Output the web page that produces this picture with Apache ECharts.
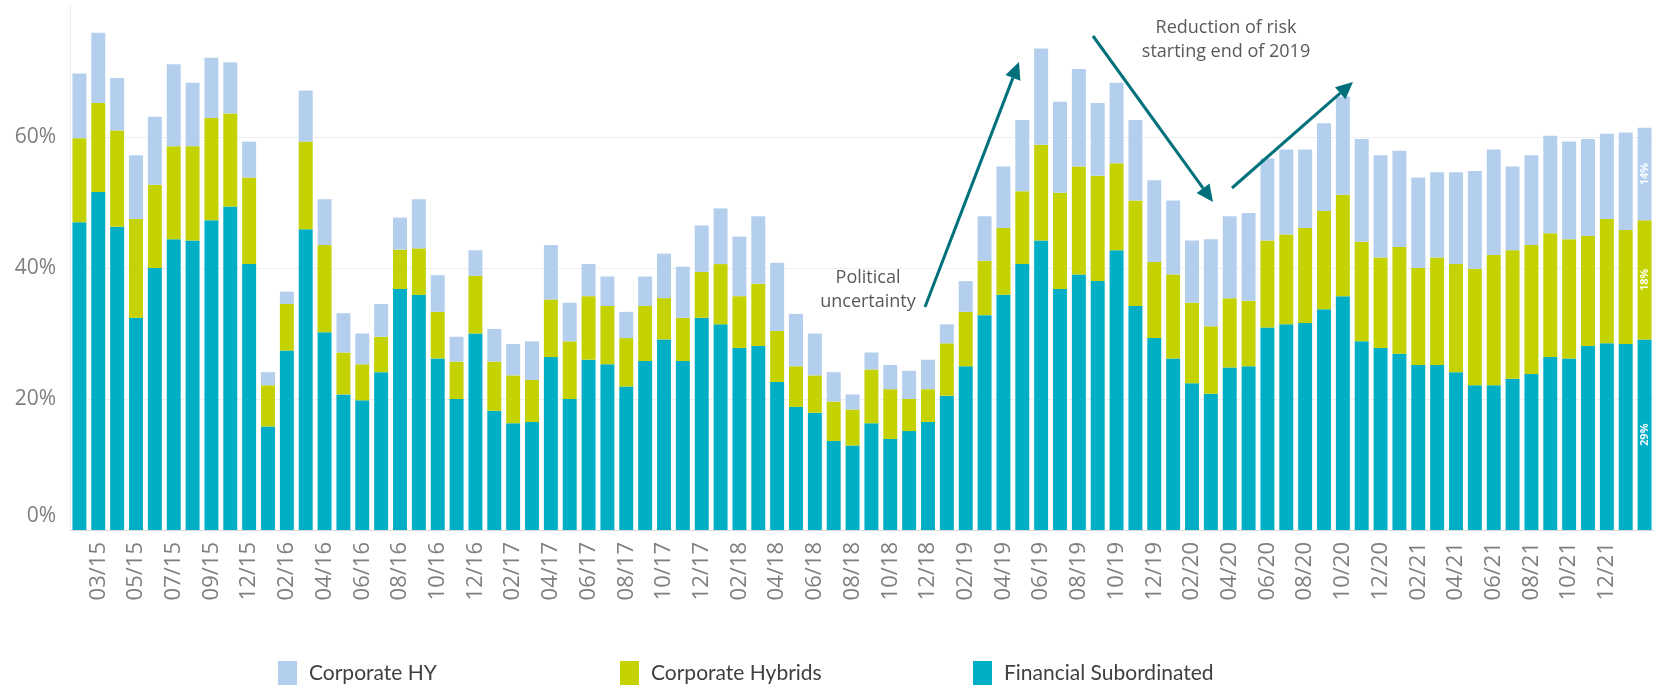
<!DOCTYPE html>
<html>
<head>
<meta charset="utf-8">
<script src="https://cdn.jsdelivr.net/npm/echarts@6/dist/echarts.min.js"></script>
<style>
    html, body { margin: 0; padding: 0; background: #ffffff; }
    #chart { width: 1654px; height: 687px; }
</style>
</head>
<body>
<div id="chart"></div>
<script>
// month categories (one month, 11/15, is not in the source)
let months = [
    '02/15', '03/15', '04/15', '05/15', '06/15', '07/15', '08/15', '09/15', '10/15', '12/15',
    '01/16', '02/16', '03/16', '04/16', '05/16', '06/16', '07/16', '08/16', '09/16', '10/16', '11/16', '12/16',
    '01/17', '02/17', '03/17', '04/17', '05/17', '06/17', '07/17', '08/17', '09/17', '10/17', '11/17', '12/17',
    '01/18', '02/18', '03/18', '04/18', '05/18', '06/18', '07/18', '08/18', '09/18', '10/18', '11/18', '12/18',
    '01/19', '02/19', '03/19', '04/19', '05/19', '06/19', '07/19', '08/19', '09/19', '10/19', '11/19', '12/19',
    '01/20', '02/20', '03/20', '04/20', '05/20', '06/20', '07/20', '08/20', '09/20', '10/20', '11/20', '12/20',
    '01/21', '02/21', '03/21', '04/21', '05/21', '06/21', '07/21', '08/21', '09/21', '10/21', '11/21', '12/21',
    '01/22', '02/22'
];

let financialSubordinated = [
    47.0, 51.6, 46.3, 32.4, 40.0, 44.4, 44.2, 47.3, 49.4, 40.6,
    15.8, 27.4, 45.9, 30.2, 20.7, 19.8, 24.1, 36.8, 35.9, 26.2, 20.0, 30.0,
    18.2, 16.3, 16.5, 26.4, 20.0, 26.0, 25.3, 21.9, 25.8, 29.1, 25.8, 32.4,
    31.4, 27.8, 28.1, 22.6, 18.8, 17.9, 13.6, 12.9, 16.3, 13.9, 15.1, 16.5,
    20.5, 25.0, 32.8, 35.9, 40.6, 44.2, 36.8, 39.0, 38.0, 42.7, 34.2, 29.3,
    26.2, 22.4, 20.8, 24.8, 25.0, 30.9, 31.4, 31.6, 33.7, 35.7, 28.8, 27.8,
    26.9, 25.2, 25.2, 24.1, 22.1, 22.1, 23.1, 23.8, 26.4, 26.2, 28.1, 28.5,
    28.4, 29.1
];

let corporateHybrids = [
    12.8, 13.6, 14.7, 15.1, 12.7, 14.2, 14.4, 15.6, 14.2, 13.2,
    6.3, 7.1, 13.4, 13.3, 6.4, 5.5, 5.4, 6.0, 7.1, 7.1, 5.7, 8.8,
    7.5, 7.3, 6.4, 8.8, 8.8, 9.7, 8.9, 7.4, 8.4, 6.3, 6.6, 7.0,
    9.2, 7.9, 9.5, 7.8, 6.2, 5.7, 6.0, 5.5, 8.2, 7.6, 4.9, 5.0,
    8.0, 8.3, 8.3, 10.2, 11.1, 14.6, 14.7, 16.5, 16.1, 13.3, 16.1, 11.6,
    12.8, 12.3, 10.3, 10.6, 10.0, 13.3, 13.7, 14.5, 15.0, 15.5, 15.2, 13.8,
    16.3, 14.8, 16.4, 16.5, 17.8, 19.9, 19.6, 19.7, 18.9, 18.2, 16.8, 19.0,
    17.4, 18.2
];

let corporateHY = [
    9.9, 10.7, 8.0, 9.7, 10.4, 12.5, 9.7, 9.2, 7.8, 5.5,
    2.0, 1.9, 7.8, 7.0, 6.0, 4.7, 5.0, 4.9, 7.5, 5.6, 3.8, 3.9,
    5.0, 4.8, 5.9, 8.3, 5.9, 4.9, 4.5, 4.0, 4.5, 6.8, 7.8, 7.1,
    8.5, 9.1, 10.3, 10.4, 8.0, 6.4, 4.5, 2.3, 2.6, 3.7, 4.3, 4.5,
    2.9, 4.7, 6.8, 9.4, 10.9, 14.7, 13.9, 14.9, 11.1, 12.3, 12.3, 12.5,
    11.3, 9.5, 13.3, 12.5, 13.4, 12.5, 13.0, 12.0, 13.4, 15.0, 15.7, 15.6,
    14.7, 13.8, 13.0, 14.0, 14.9, 16.1, 12.8, 13.7, 14.9, 14.9, 14.8, 13.0,
    14.9, 14.1
];

// the source labels every second month and stops at 12/21
let lastLabelledMonth = '12/21';

let colors = {
    hy: '#b4cfee',
    hybrids: '#c3d200',
    fin: '#00aec6',
    arrow: '#00717b',
    note: '#595959',
    axisText: '#7f7f7f'
};

// only the most recent bar carries value labels
function withLastLabel(values) {
    return values.map(function (v, i) {
        if (i !== values.length - 1) {
            return v;
        }
        return {
            value: v,
            label: {
                show: true,
                position: 'inside',
                rotate: 90,
                color: 'rgba(255,255,255,0.92)',
                fontSize: 11,
                fontWeight: 'bold',
                fontFamily: 'Open Sans',
                formatter: function (p) {
                    return Math.round(p.value) + '%';
                }
            }
        };
    });
}

function barSeries(name, values, color) {
    return {
        name: name,
        type: 'bar',
        stack: 'total',
        barCategoryGap: '26%',
        itemStyle: { color: color },
        emphasis: { disabled: true },
        data: withLastLabel(values)
    };
}

function arrow(x1, y1, x2, y2) {
    let angle = Math.atan2(y2 - y1, x2 - x1);
    let headLength = 17;
    let headHalf = 8;
    let bx = x2 - headLength * Math.cos(angle);
    let by = y2 - headLength * Math.sin(angle);
    let px = -Math.sin(angle) * headHalf;
    let py = Math.cos(angle) * headHalf;
    return [{
        type: 'line',
        shape: { x1: x1, y1: y1, x2: bx, y2: by },
        style: { stroke: colors.arrow, lineWidth: 3 },
        z: 10
    }, {
        type: 'polygon',
        shape: { points: [[x2, y2], [bx + px, by + py], [bx - px, by - py]] },
        style: { fill: colors.arrow },
        z: 10
    }];
}

function note(text, x, y) {
    return {
        type: 'text',
        x: x,
        y: y,
        z: 10,
        style: {
            text: text,
            fill: colors.note,
            fontSize: 18,
            fontFamily: 'Open Sans',
            lineHeight: 24,
            align: 'center',
            verticalAlign: 'middle'
        }
    };
}

function legend(name, left) {
    return {
        data: [name],
        left: left,
        top: 656,
        itemWidth: 19,
        itemHeight: 24,
        icon: 'rect',
        selectedMode: false,
        textStyle: {
            color: '#404040',
            fontSize: 21,
            fontFamily: 'Lato',
            padding: [0, 0, 0, 7]
        }
    };
}

let lastLabelIndex = months.indexOf(lastLabelledMonth);

let chart = echarts.init(document.getElementById('chart'));
let option = {
    animation: false,
    backgroundColor: '#ffffff',
    grid: { left: 70, right: 0, top: 6, bottom: 157 },
    legend: [
        legend('Corporate HY', 273),
        legend('Corporate Hybrids', 615),
        legend('Financial Subordinated', 968)
    ],
    xAxis: {
        type: 'category',
        data: months,
        axisLine: { lineStyle: { color: '#d9d9d9' } },
        axisTick: { show: false },
        axisLabel: {
            rotate: 90,
            margin: 12,
            color: colors.axisText,
            fontSize: 22,
            fontFamily: 'Open Sans',
            interval: function (index) {
                return index % 2 === 1 && index <= lastLabelIndex;
            }
        }
    },
    yAxis: {
        type: 'value',
        min: 0,
        max: 80,
        interval: 20,
        axisLine: { show: true, lineStyle: { color: '#eeeeee' } },
        axisTick: { show: false },
        splitLine: {
            lineStyle: { color: ['#efefef', '#efefef', '#efefef', '#efefef', 'rgba(0,0,0,0)'] }
        },
        axisLabel: {
            showMaxLabel: false,
            margin: 14,
            color: colors.axisText,
            fontSize: 21,
            fontFamily: 'Open Sans',
            formatter: function (value) {
                if (value === 0) {
                    return '{zero|0%}';
                }
                return value + '%';
            },
            rich: {
                zero: {
                    color: colors.axisText,
                    fontSize: 21,
                    fontFamily: 'Open Sans',
                    padding: [0, 0, 28, 0]
                }
            }
        }
    },
    series: [
        barSeries('Financial Subordinated', financialSubordinated, colors.fin),
        barSeries('Corporate Hybrids', corporateHybrids, colors.hybrids),
        barSeries('Corporate HY', corporateHY, colors.hy)
    ],
    graphic: [].concat(
        arrow(925, 307, 1019, 62),
        arrow(1093, 36, 1213, 202),
        arrow(1232, 188, 1353, 82),
        [
            note('Political\nuncertainty', 868, 290),
            note('Reduction of risk\nstarting end of 2019', 1226, 40)
        ]
    )
};
chart.setOption(option);
</script>
</body>
</html>
